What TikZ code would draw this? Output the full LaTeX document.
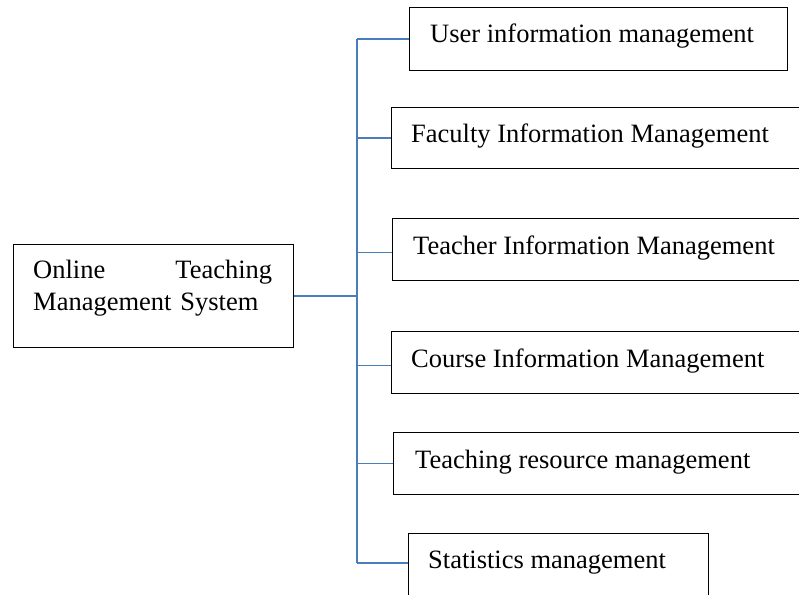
\documentclass[tikz,border=0pt]{standalone}
\usepackage{fontspec}
\setmainfont{Liberation Serif}
\usetikzlibrary{calc}
\definecolor{linkblue}{RGB}{74,126,187}
\begin{document}
\begin{tikzpicture}[x=1pt,y=-1pt,
  box/.style={draw=black,line width=1.1pt,inner sep=0pt,anchor=north west},
  lbl/.style={inner sep=0pt,anchor=base west,font=\fontsize{26.5}{32}\selectfont},
  link/.style={draw=linkblue,line width=1.6pt}]
\clip (0,0) rectangle (799,594);
\fill[white] (0,0) rectangle (799,594);

% root box
\node[box,minimum width=280pt,minimum height=103pt] (main) at (13,244) {};
\node[lbl,text width=239pt,align=left] (mainT) at (33,278)
  {Online\hfill Teaching\\Management System};

% module boxes (several run past the right edge)
\node[box,minimum width=378pt,minimum height=63pt] (user) at (409,7) {};
\node[box,minimum width=430pt,minimum height=61pt] (fac)  at (391,107) {};
\node[box,minimum width=430pt,minimum height=62pt] (tea)  at (392,218) {};
\node[box,minimum width=430pt,minimum height=62pt] (cou)  at (391,331) {};
\node[box,minimum width=430pt,minimum height=62pt] (res)  at (393,432) {};
\node[box,minimum width=300pt,minimum height=90pt] (stat) at (408,533) {};

% module labels
\node[lbl] (userT) at (430,43)  {User information management};
\node[lbl] (facT)  at (411,142) {Faculty Information Management};
\node[lbl] (teaT)  at (413,254) {Teacher Information Management};
\node[lbl] (couT)  at (411,367) {Course Information Management};
\node[lbl] (resT)  at (415,468) {Teaching resource management};
\node[lbl] (statT) at (428,568) {Statistics management};

% tree connectors
\coordinate (trunk) at (357,297);
\coordinate (statIn) at ($(stat.north west)+(0,30)$);
\draw[link] (main.east) -- (main.east -| trunk);
\draw[link] (user.west -| trunk) -- (statIn -| trunk);
\draw[link] (user.west) -- (user.west -| trunk);
\draw[link] (fac.west) -- (fac.west -| trunk);
\draw[link] ($(tea.west)+(0,3)$) -- ($(tea.west -| trunk)+(0,3)$);
\draw[link] ($(cou.west)+(0,3)$) -- ($(cou.west -| trunk)+(0,3)$);
\draw[link] (res.west) -- (res.west -| trunk);
\draw[link] (statIn) -- (statIn -| trunk);
\end{tikzpicture}
\end{document}
